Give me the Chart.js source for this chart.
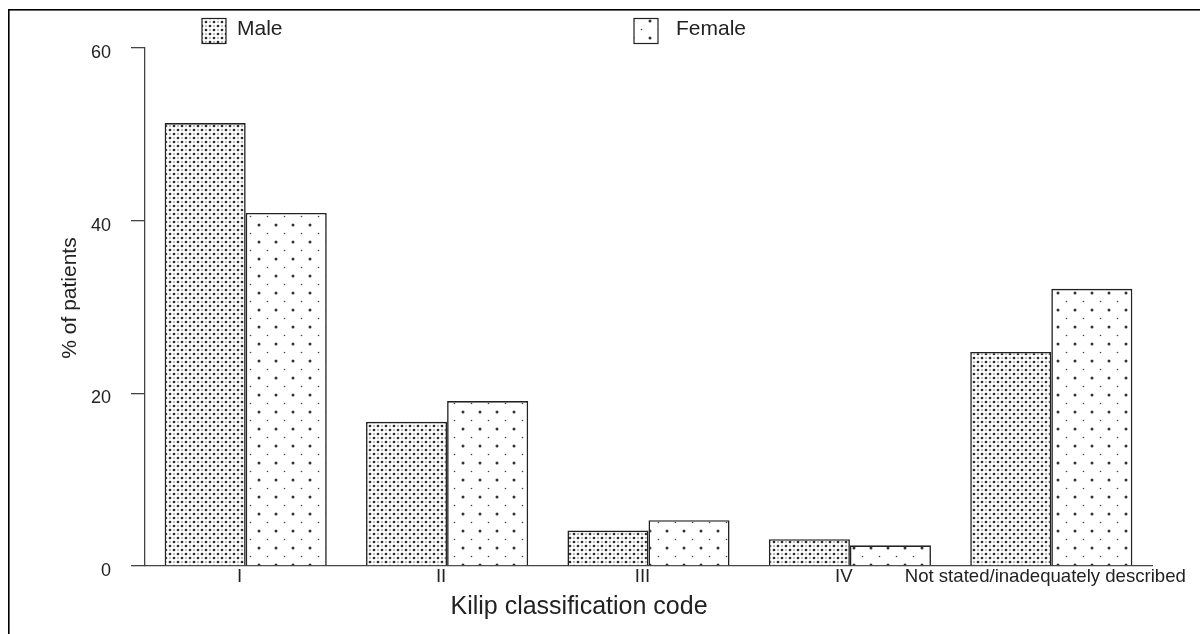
<!DOCTYPE html>
<html>
<head>
<meta charset="utf-8">
<script src="https://cdn.jsdelivr.net/npm/chart.js@4/dist/chart.umd.min.js"></script>
<style>
  html, body { margin: 0; padding: 0; background: #fff; }
  #caixa { position: relative; width: 1200px; height: 634px; }
</style>
</head>
<body>
<div id="caixa"><canvas id="grafico"></canvas></div>
<script>
// --- DADOS ---
const CATEGORIAS = ["I", "II", "III", "IV", "Not stated/inadequately described"];
const MASCULINO = [51.3, 16.7, 4.1, 3.1, 24.8];
const FEMININO = [40.9, 19.1, 5.3, 2.4, 32.1];
const TICKS_Y = [0, 20, 40, 60];

const FONTE = '"Liberation Sans", Arial, Helvetica, sans-serif';
const COR_TEXTO = '#222';
const COR_LINHA = '#444';

// --- PADRÕES DE PONTOS (hachura das barras) ---
function criarPadrao(tamanho, pontos) {
    const c = document.createElement('canvas');
    c.width = tamanho;
    c.height = tamanho;
    const g = c.getContext('2d');
    g.fillStyle = '#fff';
    g.fillRect(0, 0, tamanho, tamanho);
    pontos.forEach(p => {
        g.fillStyle = p.cor;
        g.beginPath();
        g.arc(p.x, p.y, p.r, 0, Math.PI * 2);
        g.fill();
    });
    return g.createPattern(c, 'repeat');
}

const padraoMasc = criarPadrao(8, [
    { x: 2, y: 2, r: 1.35, cor: '#2a2a2a' },
    { x: 6, y: 6, r: 1.35, cor: '#2a2a2a' },
    { x: 6, y: 2, r: 0.75, cor: '#555' },
    { x: 2, y: 6, r: 0.75, cor: '#555' }
]);
const padraoFem = criarPadrao(17, [
    { x: 4, y: 4, r: 1.5, cor: '#333' },
    { x: 12.5, y: 12.5, r: 0.8, cor: '#444' }
]);

// --- MOLDURA, LEGENDA E TÍTULOS DOS EIXOS ---
const extras = {
    id: 'extras',
    afterDraw(chart) {
        const ctx = chart.ctx;
        ctx.save();
        // moldura superior e esquerda
        ctx.fillStyle = '#000';
        ctx.fillRect(8, 9, 1192, 1.6);
        ctx.fillRect(8, 9, 1.6, 625);

        // legenda
        const itens = [
            { x: 202, texto: 'Male', ds: 0 },
            { x: 634, texto: 'Female', ds: 1 }
        ];
        ctx.font = '21px ' + FONTE;
        ctx.textBaseline = 'alphabetic';
        ctx.textAlign = 'left';
        itens.forEach(it => {
            ctx.fillStyle = chart.data.datasets[it.ds].backgroundColor;
            ctx.fillRect(it.x, 18.5, 24, 25);
            ctx.strokeStyle = COR_TEXTO;
            ctx.lineWidth = 1.2;
            ctx.strokeRect(it.x, 18.5, 24, 25);
            ctx.fillStyle = COR_TEXTO;
            ctx.fillText(it.texto, it.x + (it.ds === 0 ? 35 : 42), 34.5);
        });

        // título do eixo x
        ctx.font = '25px ' + FONTE;
        ctx.textAlign = 'center';
        ctx.fillText('Kilip classification code', 579, 614);

        // título do eixo y
        ctx.translate(70, 298);
        ctx.rotate(-Math.PI / 2);
        ctx.font = '21px ' + FONTE;
        ctx.textBaseline = 'middle';
        ctx.fillText('% of patients', 0, 0);
        ctx.restore();
    }
};

// --- GRÁFICO ---
function renderizarGrafico() {
    const ctx = document.getElementById('grafico').getContext('2d');
    new Chart(ctx, {
        type: 'bar',
        data: {
            labels: CATEGORIAS,
            datasets: [
                { label: 'Male', data: MASCULINO, backgroundColor: padraoMasc },
                { label: 'Female', data: FEMININO, backgroundColor: padraoFem }
            ]
        },
        options: {
            responsive: true,
            maintainAspectRatio: false,
            animation: false,
            layout: { padding: { top: 48, right: 48, bottom: 0, left: 0 } },
            datasets: {
                bar: {
                    categoryPercentage: 0.805,
                    barPercentage: 1.0,
                    borderColor: COR_TEXTO,
                    borderWidth: 1.6
                }
            },
            plugins: {
                legend: { display: false },
                tooltip: { enabled: false }
            },
            scales: {
                x: {
                    afterFit: s => { s.height = 68; },
                    grid: { display: false, drawTicks: false },
                    border: { display: true, color: COR_LINHA, width: 1.3 },
                    ticks: {
                        color: COR_TEXTO,
                        font: { family: FONTE, size: 18.6 },
                        padding: 0,
                        labelOffset: -6,
                        maxRotation: 0,
                        minRotation: 0,
                        autoSkip: false
                    }
                },
                y: {
                    min: 0,
                    max: 60,
                    afterFit: s => { s.width = 145; },
                    afterBuildTicks: s => { s.ticks = TICKS_Y.map(v => ({ value: v })); },
                    grid: {
                        drawOnChartArea: false,
                        drawTicks: true,
                        tickLength: 14,
                        color: COR_LINHA,
                        lineWidth: 1.3
                    },
                    border: { display: true, color: COR_LINHA, width: 1.3 },
                    ticks: {
                        color: COR_TEXTO,
                        font: { family: FONTE, size: 18 },
                        padding: 20,
                        labelOffset: 5
                    }
                }
            }
        },
        plugins: [extras]
    });
}

renderizarGrafico();
</script>
</body>
</html>
